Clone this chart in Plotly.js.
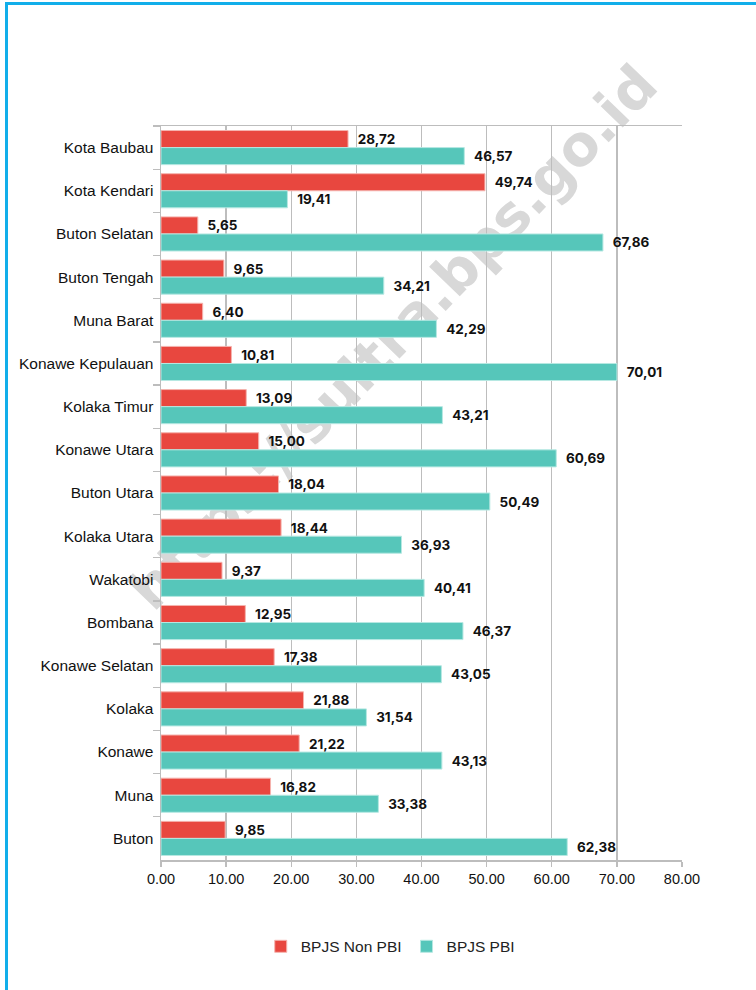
<!DOCTYPE html>
<html>
<head>
<meta charset="utf-8">
<script src="https://cdn.plot.ly/plotly-3.0.1.min.js"></script>
<style>
html,body{margin:0;padding:0;background:#fff;}
#frame{position:absolute;left:5px;top:2px;width:751px;height:988px;border-left:3px solid #12AEEA;border-top:3px solid #12AEEA;box-sizing:border-box;pointer-events:none;z-index:10;}
#chart{position:absolute;left:0;top:0;width:756px;height:990px;}
</style>
</head>
<body>
<div id="chart"></div>
<div id="frame"></div>
<script>
const categories = ["Kota Baubau","Kota Kendari","Buton Selatan","Buton Tengah","Muna Barat","Konawe Kepulauan","Kolaka Timur","Konawe Utara","Buton Utara","Kolaka Utara","Wakatobi","Bombana","Konawe Selatan","Kolaka","Konawe","Muna","Buton"];
const nonPBI = [28.72,49.74,5.65,9.65,6.40,10.81,13.09,15.00,18.04,18.44,9.37,12.95,17.38,21.88,21.22,16.82,9.85];
const pbi = [46.57,19.41,67.86,34.21,42.29,70.01,43.21,60.69,50.49,36.93,40.41,46.37,43.05,31.54,43.13,33.38,62.38];
const seriesNames = ["BPJS Non PBI","BPJS PBI"];
const xTickVals = [0,10,20,30,40,50,60,70,80];
const watermark = "https://sultra.bps.go.id";

const fmt = v => '\u2002' + v.toFixed(2).replace('.', ',');
const labelFont = {family:"Inter, 'DejaVu Sans', sans-serif", size:13.5, color:"#111", weight:700};

const traces = [
  {type:'bar', orientation:'h', name:seriesNames[0], y:categories, x:nonPBI,
   marker:{color:'#E8473F', line:{color:'#F5B3AE', width:1}},
   text:nonPBI.map(fmt), textposition:'outside', cliponaxis:false,
   textfont:labelFont, hoverinfo:'x+y'},
  {type:'bar', orientation:'h', name:seriesNames[1], y:categories, x:pbi,
   marker:{color:'#56C6BA', line:{color:'#B6E8E2', width:1}},
   text:pbi.map(fmt), textposition:'outside', cliponaxis:false,
   textfont:labelFont, hoverinfo:'x+y'}
];

const layout = {
  width:756, height:990,
  margin:{l:161, r:74, t:126, b:130},
  paper_bgcolor:'#fff', plot_bgcolor:'rgba(0,0,0,0)',
  barmode:'group', bargap:0.21, bargroupgap:0,
  font:{family:"'Liberation Sans', Arial, sans-serif", size:14, color:'#111'},
  xaxis:{range:[0,80], tickvals:xTickVals, tickformat:'.2f',
    showgrid:true, gridcolor:'#BDBDBD', gridwidth:1.3,
    showline:true, linecolor:'#BDBDBD', linewidth:1.5, mirror:true,
    ticks:'outside', ticklen:5, tickcolor:'#BDBDBD', tickwidth:1.3,
    zeroline:false, fixedrange:true,
    tickfont:{size:14.5, color:'#111'}},
  yaxis:{autorange:'reversed', type:'category',
    showline:true, linecolor:'#BDBDBD', linewidth:1.5,
    ticks:'outside', tickson:'boundaries', ticklen:7, tickcolor:'#BDBDBD', tickwidth:1.3,
    showgrid:false, ticklabelstandoff:3,
    tickfont:{size:15.5, color:'#111'}},
  showlegend:true,
  legend:{orientation:'h', x:0.44, xanchor:'center', y:-0.095, yanchor:'top',
    font:{size:15.5, color:'#222'}, itemwidth:30, traceorder:'normal'},
  shapes:[{type:'line', xref:'paper', yref:'paper', layer:'below',
    x0:-0.055, y0:0.362, x1:0.935, y1:1.07,
    line:{width:0, color:'rgba(0,0,0,0)'},
    label:{text:watermark, textangle:-46, textposition:'middle', xanchor:'center', yanchor:'middle',
      font:{family:"'DejaVu Sans', sans-serif", size:56, color:'#D8D8D8', weight:700}}}]
};

Plotly.newPlot('chart', traces, layout, {displayModeBar:false, staticPlot:true});
</script>
</body>
</html>
